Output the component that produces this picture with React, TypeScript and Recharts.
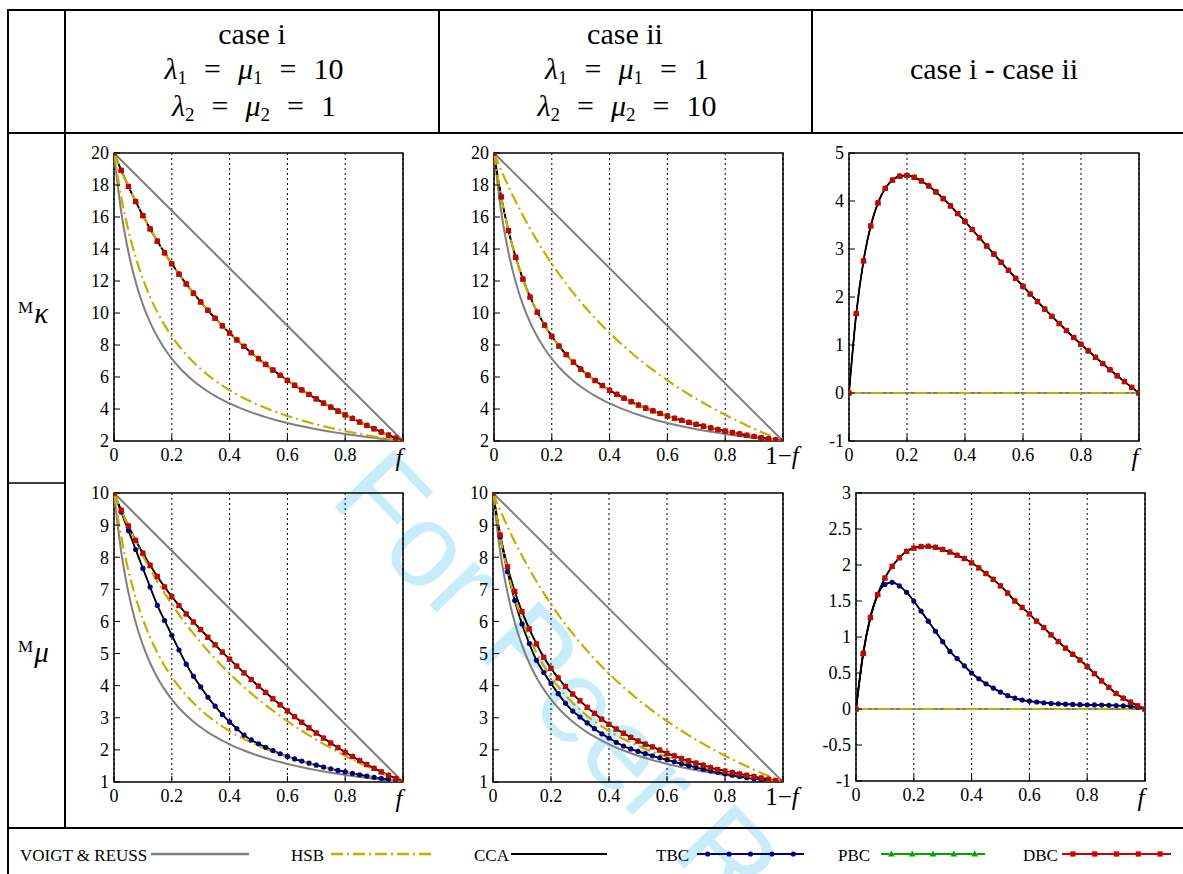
import React from 'react';
import { LineChart, Line, XAxis, YAxis, CartesianGrid, ReferenceArea } from 'recharts';

// abscissa grids
const F41 = [0, 0.025, 0.05, 0.075, 0.1, 0.125, 0.15, 0.175, 0.2, 0.225, 0.25, 0.275, 0.3, 0.325, 0.35, 0.375, 0.4, 0.425, 0.45, 0.475, 0.5, 0.525, 0.55, 0.575, 0.6, 0.625, 0.65, 0.675, 0.7, 0.725, 0.75, 0.775, 0.8, 0.825, 0.85, 0.875, 0.9, 0.925, 0.95, 0.975, 1];
const F2 = [0, 1];

// M_kappa row
const kVoigt = [20, 2];
const kReuss = [20, 16.327, 13.793, 11.94, 10.526, 9.412, 8.511, 7.767, 7.143, 6.612, 6.154, 5.755, 5.405, 5.096, 4.819, 4.571, 4.348, 4.145, 3.96, 3.791, 3.636, 3.493, 3.361, 3.239, 3.125, 3.019, 2.92, 2.827, 2.74, 2.658, 2.581, 2.508, 2.439, 2.374, 2.312, 2.254, 2.198, 2.145, 2.094, 2.046, 2];
const kHsbUpper = [20, 18.916, 17.907, 16.966, 16.087, 15.263, 14.49, 13.762, 13.077, 12.43, 11.818, 11.239, 10.69, 10.168, 9.672, 9.2, 8.75, 8.321, 7.91, 7.518, 7.143, 6.783, 6.438, 6.107, 5.789, 5.484, 5.19, 4.907, 4.634, 4.371, 4.118, 3.873, 3.636, 3.408, 3.187, 2.973, 2.766, 2.565, 2.371, 2.183, 2];
const kHsbLower = [20, 17.261, 15.154, 13.483, 12.125, 11, 10.053, 9.244, 8.545, 7.936, 7.4, 6.925, 6.5, 6.119, 5.774, 5.462, 5.176, 4.915, 4.676, 4.455, 4.25, 4.06, 3.884, 3.719, 3.565, 3.421, 3.286, 3.158, 3.038, 2.925, 2.818, 2.717, 2.621, 2.529, 2.443, 2.36, 2.281, 2.206, 2.134, 2.066, 2];
const kDiff = [0, 1.655, 2.753, 3.483, 3.962, 4.263, 4.437, 4.518, 4.532, 4.494, 4.418, 4.314, 4.19, 4.049, 3.898, 3.738, 3.574, 3.406, 3.234, 3.063, 2.893, 2.723, 2.554, 2.388, 2.224, 2.063, 1.904, 1.749, 1.596, 1.446, 1.3, 1.156, 1.015, 0.879, 0.744, 0.613, 0.485, 0.359, 0.237, 0.117, 0];
const zero2 = [0, 0];

// M_mu row
const mVoigt = [10, 1];
const mReuss = [10, 8.163, 6.897, 5.97, 5.263, 4.706, 4.255, 3.883, 3.571, 3.306, 3.077, 2.877, 2.703, 2.548, 2.41, 2.286, 2.174, 2.073, 1.98, 1.896, 1.818, 1.747, 1.681, 1.62, 1.563, 1.51, 1.46, 1.414, 1.37, 1.329, 1.291, 1.254, 1.22, 1.187, 1.156, 1.127, 1.099, 1.073, 1.047, 1.023, 1];
const mHsbUpper = [10, 9.458, 8.954, 8.483, 8.043, 7.632, 7.245, 6.881, 6.538, 6.215, 5.909, 5.619, 5.345, 5.084, 4.836, 4.6, 4.375, 4.16, 3.955, 3.759, 3.571, 3.392, 3.219, 3.054, 2.895, 2.742, 2.595, 2.454, 2.317, 2.186, 2.059, 1.937, 1.818, 1.704, 1.594, 1.487, 1.383, 1.283, 1.186, 1.092, 1];
const mHsbLower = [10, 8.631, 7.577, 6.742, 6.063, 5.5, 5.027, 4.622, 4.273, 3.968, 3.7, 3.463, 3.25, 3.06, 2.887, 2.731, 2.588, 2.458, 2.338, 2.228, 2.125, 2.03, 1.942, 1.86, 1.783, 1.711, 1.643, 1.579, 1.519, 1.463, 1.409, 1.359, 1.311, 1.265, 1.222, 1.18, 1.141, 1.103, 1.067, 1.033, 1];
const mPbcCase1 = [10, 9.463, 8.975, 8.525, 8.125, 7.75, 7.4, 7.075, 6.775, 6.495, 6.233, 5.983, 5.745, 5.505, 5.273, 5.045, 4.825, 4.61, 4.398, 4.19, 3.985, 3.788, 3.593, 3.403, 3.215, 3.035, 2.86, 2.69, 2.525, 2.368, 2.215, 2.068, 1.925, 1.793, 1.665, 1.543, 1.425, 1.315, 1.208, 1.105, 1];
const mTbcCase1 = [10, 9.41, 8.83, 8.24, 7.65, 7.07, 6.5, 6.03, 5.57, 5.11, 4.67, 4.29, 3.96, 3.64, 3.36, 3.1, 2.87, 2.66, 2.46, 2.31, 2.19, 2.08, 1.98, 1.88, 1.795, 1.72, 1.65, 1.585, 1.523, 1.466, 1.412, 1.361, 1.313, 1.268, 1.226, 1.185, 1.146, 1.115, 1.08, 1.045, 1];
const mPbcCase2 = [10, 8.693, 7.705, 6.935, 6.305, 5.77, 5.3, 4.885, 4.54, 4.24, 3.973, 3.738, 3.53, 3.325, 3.138, 2.955, 2.795, 2.65, 2.518, 2.39, 2.275, 2.178, 2.093, 1.993, 1.895, 1.815, 1.73, 1.66, 1.59, 1.523, 1.445, 1.39, 1.34, 1.295, 1.25, 1.21, 1.17, 1.125, 1.085, 1.04, 1];
const mTbcCase2 = [10, 8.63, 7.55, 6.65, 5.92, 5.31, 4.79, 4.41, 4.07, 3.75, 3.45, 3.21, 3.025, 2.84, 2.66, 2.5, 2.37, 2.235, 2.12, 2.03, 1.952, 1.882, 1.816, 1.752, 1.69, 1.628, 1.568, 1.507, 1.451, 1.399, 1.349, 1.301, 1.255, 1.212, 1.172, 1.133, 1.098, 1.071, 1.042, 1.02, 1];
const mPbcDiff = [0, 0.77, 1.27, 1.59, 1.82, 1.98, 2.1, 2.19, 2.235, 2.255, 2.26, 2.245, 2.215, 2.18, 2.135, 2.09, 2.03, 1.96, 1.88, 1.8, 1.71, 1.61, 1.5, 1.41, 1.32, 1.22, 1.13, 1.03, 0.935, 0.845, 0.76, 0.68, 0.59, 0.49, 0.39, 0.3, 0.215, 0.15, 0.095, 0.045, 0];
const mTbcDiff = [0, 0.78, 1.28, 1.59, 1.73, 1.76, 1.71, 1.62, 1.5, 1.36, 1.22, 1.08, 0.935, 0.8, 0.7, 0.6, 0.5, 0.42, 0.35, 0.29, 0.235, 0.185, 0.15, 0.125, 0.11, 0.097, 0.087, 0.078, 0.072, 0.067, 0.063, 0.06, 0.058, 0.056, 0.054, 0.052, 0.048, 0.044, 0.038, 0.025, 0];

// ticks
const X_TICKS = [0, 0.2, 0.4, 0.6, 0.8, 1];
const K_TICKS = [2, 4, 6, 8, 10, 12, 14, 16, 18, 20];
const KD_TICKS = [-1, 0, 1, 2, 3, 4, 5];
const M_TICKS = [1, 2, 3, 4, 5, 6, 7, 8, 9, 10];
const MD_TICKS = [-1, -0.5, 0, 0.5, 1, 1.5, 2, 2.5, 3];

const SERIF = '"Liberation Serif", "Times New Roman", serif';
const GRAY = '#7f7f7f';
const GOLD = '#ccaa00';
const NAVY = '#00007f';
const GREEN = '#00a000';
const RED = '#cc0000';
const DASHDOT = '12 4 2 4';

type Kind = 'vr' | 'hsb' | 'cca' | 'tbc' | 'pbc' | 'dbc';
type Series = { kind: Kind; xs: number[]; ys: number[] };

const s = (kind: Kind, xs: number[], ys: number[]): Series => ({ kind, xs, ys });

const PANELS = [
  {
    box: [114, 153, 289, 288], yDomain: [2, 20], yTicks: K_TICKS, xName: 'f',
    series: [s('vr', F2, kVoigt), s('vr', F41, kReuss), s('hsb', F41, kHsbUpper), s('hsb', F41, kHsbLower),
      s('cca', F41, kHsbUpper), s('tbc', F41, kHsbUpper), s('pbc', F41, kHsbUpper), s('dbc', F41, kHsbUpper)],
  },
  {
    box: [494, 153, 289, 288], yDomain: [2, 20], yTicks: K_TICKS, xName: '1-f',
    series: [s('vr', F2, kVoigt), s('vr', F41, kReuss), s('hsb', F41, kHsbUpper), s('hsb', F41, kHsbLower),
      s('cca', F41, kHsbLower), s('tbc', F41, kHsbLower), s('pbc', F41, kHsbLower), s('dbc', F41, kHsbLower)],
  },
  {
    box: [849, 153, 290, 288], yDomain: [-1, 5], yTicks: KD_TICKS, xName: 'f',
    series: [s('vr', F2, zero2), s('hsb', F2, zero2),
      s('cca', F41, kDiff), s('tbc', F41, kDiff), s('pbc', F41, kDiff), s('dbc', F41, kDiff)],
  },
  {
    box: [114, 493, 289, 289], yDomain: [1, 10], yTicks: M_TICKS, xName: 'f',
    series: [s('vr', F2, mVoigt), s('vr', F41, mReuss), s('hsb', F41, mHsbUpper), s('hsb', F41, mHsbLower),
      s('cca', F41, mPbcCase1), s('cca', F41, mTbcCase1), s('tbc', F41, mTbcCase1), s('pbc', F41, mPbcCase1), s('dbc', F41, mPbcCase1)],
  },
  {
    box: [493, 493, 290, 289], yDomain: [1, 10], yTicks: M_TICKS, xName: '1-f',
    series: [s('vr', F2, mVoigt), s('vr', F41, mReuss), s('hsb', F41, mHsbUpper), s('hsb', F41, mHsbLower),
      s('cca', F41, mPbcCase2), s('cca', F41, mTbcCase2), s('tbc', F41, mTbcCase2), s('pbc', F41, mPbcCase2), s('dbc', F41, mPbcCase2)],
  },
  {
    box: [856, 493, 289, 288], yDomain: [-1, 3], yTicks: MD_TICKS, xName: 'f',
    series: [s('vr', F2, zero2), s('hsb', F2, zero2),
      s('cca', F41, mPbcDiff), s('cca', F41, mTbcDiff), s('tbc', F41, mTbcDiff), s('pbc', F41, mPbcDiff), s('dbc', F41, mPbcDiff)],
  },
];

const markerColor = (k: Kind) => (k === 'tbc' ? NAVY : k === 'pbc' ? GREEN : RED);

const marker = (k: Kind, cx: number, cy: number, key: React.Key) => {
  if (k === 'tbc') return <circle key={key} cx={cx} cy={cy} r={2.6} fill={NAVY} />;
  if (k === 'pbc')
    return <polygon key={key} points={`${cx},${cy - 3.6} ${cx + 3.3},${cy + 2.4} ${cx - 3.3},${cy + 2.4}`} fill={GREEN} />;
  return <rect key={key} x={cx - 2.6} y={cy - 2.6} width={5.2} height={5.2} fill={RED} />;
};

const dotFor = (k: Kind) => (p: any) => {
  if (p.cx == null || p.cy == null) return <g key={p.index} />;
  return marker(k, p.cx, p.cy, p.index);
};

const toPoints = (sr: Series) => sr.xs.map((x, i) => ({ x, y: sr.ys[i] }));

function renderLines(series: Series[]) {
  const out: React.ReactNode[] = [];
  const pick = (k: Kind) => series.map((sr, i) => ({ sr, i })).filter((e) => e.sr.kind === k);
  pick('vr').forEach(({ sr, i }) =>
    out.push(<Line key={`vr${i}`} data={toPoints(sr)} dataKey="y" type="monotone" stroke={GRAY} strokeWidth={2} dot={false} activeDot={false} isAnimationActive={false} />));
  (['tbc', 'pbc', 'dbc'] as Kind[]).forEach((k) =>
    pick(k).forEach(({ sr, i }) =>
      out.push(<Line key={`l${k}${i}`} data={toPoints(sr)} dataKey="y" type="monotone" stroke={markerColor(k)} strokeWidth={1.2} dot={false} activeDot={false} isAnimationActive={false} />)));
  pick('cca').forEach(({ sr, i }) =>
    out.push(<Line key={`cca${i}`} data={toPoints(sr)} dataKey="y" type="monotone" stroke="#000" strokeWidth={1.8} dot={false} activeDot={false} isAnimationActive={false} />));
  (['tbc', 'pbc', 'dbc'] as Kind[]).forEach((k) =>
    pick(k).forEach(({ sr, i }) =>
      out.push(<Line key={`d${k}${i}`} data={toPoints(sr)} dataKey="y" type="monotone" stroke="none" strokeWidth={0} dot={dotFor(k)} activeDot={false} isAnimationActive={false} />)));
  pick('hsb').forEach(({ sr, i }) =>
    out.push(<Line key={`hsb${i}`} data={toPoints(sr)} dataKey="y" type="monotone" stroke={GOLD} strokeWidth={2.2} strokeDasharray={DASHDOT} dot={false} activeDot={false} isAnimationActive={false} />));
  return out;
}

const xTick = (name: string) => (p: any) => {
  const v = p.payload.value;
  if (v === 1) {
    if (name === 'f')
      return (
        <text x={p.x - 4} y={p.y + 18} textAnchor="middle" fontFamily={SERIF} fontSize={25} fontStyle="italic" fill="#000">f</text>
      );
    return (
      <text x={p.x - 1} y={p.y + 16} textAnchor="middle" fontFamily={SERIF} fontSize={25} fill="#000">
        1−<tspan fontStyle="italic">f</tspan>
      </text>
    );
  }
  return (
    <text x={p.x} y={p.y} dy="0.71em" textAnchor="middle" fontFamily={SERIF} fontSize={18} fill="#000">{v}</text>
  );
};

function Panel({ box, yDomain, yTicks, xName, series }: any) {
  const [left, top, w, h] = box;
  const padL = 60, padT = 12, padR = 34, padB = 44;
  return (
    <div style={{ position: 'absolute', left: left - padL, top: top - padT }}>
      <LineChart width={w + padL + padR} height={h + padT + padB} margin={{ top: padT, right: padR, bottom: 0, left: 0 }}>
        <CartesianGrid horizontal={false} stroke="#000" strokeDasharray="2 3" strokeWidth={1} />
        <XAxis type="number" dataKey="x" domain={[0, 1]} ticks={X_TICKS} interval={0} height={padB} allowDataOverflow
          axisLine={false} tickSize={-6} tickMargin={13} tickLine={{ stroke: '#000' }} tick={xTick(xName)} />
        <YAxis type="number" domain={yDomain} ticks={yTicks} interval={0} width={padL} allowDataOverflow
          axisLine={false} tickSize={-6} tickMargin={11} tickLine={{ stroke: '#000' }}
          tick={{ fill: '#000', fontSize: 18, fontFamily: SERIF }} />
        <ReferenceArea x1={0} x2={1} y1={yDomain[0]} y2={yDomain[1]} fill="none" fillOpacity={0} stroke="#000" strokeWidth={1.5} />
        {renderLines(series)}
      </LineChart>
    </div>
  );
}

function MathLine({ x, y, sub, value }: { x: number; y: number; sub: string; value: string }) {
  return (
    <text x={x} y={y} textAnchor="middle" fontFamily={SERIF} fontSize={30} fill="#000">
      <tspan fontStyle="italic">λ</tspan>
      <tspan fontSize={19} dy={5}>{sub}</tspan>
      <tspan dy={-5} dx={2}>{'\u2002=\u2002'}</tspan>
      <tspan fontStyle="italic" dx={2}>μ</tspan>
      <tspan fontSize={19} dy={5}>{sub}</tspan>
      <tspan dy={-5} dx={2}>{'\u2002=\u2002'}</tspan>
      <tspan dx={2}>{value}</tspan>
    </text>
  );
}

function LegendItem({ label, x, lx1, lx2, kind }: { label: string; x: number; lx1: number; lx2: number; kind: Kind }) {
  const y = 854;
  let line: React.ReactNode = null;
  if (kind === 'vr') line = <line x1={lx1} y1={y} x2={lx2} y2={y} stroke={GRAY} strokeWidth={2.5} />;
  else if (kind === 'hsb') line = <line x1={lx1} y1={y} x2={lx2} y2={y} stroke={GOLD} strokeWidth={2.5} strokeDasharray={DASHDOT} />;
  else if (kind === 'cca') line = <line x1={lx1} y1={y} x2={lx2} y2={y} stroke="#000" strokeWidth={2} />;
  else {
    const step = (lx2 - lx1) / 5;
    line = (
      <g>
        <line x1={lx1} y1={y} x2={lx2} y2={y} stroke={markerColor(kind)} strokeWidth={2} strokeDasharray={`${step - 4} 4`} strokeDashoffset={-(step / 2 + 2)} />
        {[0, 1, 2, 3, 4].map((i) => marker(kind, lx1 + step * (i + 0.5), y, i))}
      </g>
    );
  }
  return (
    <g>
      <text x={x} y={861} fontFamily={SERIF} fontSize={17} fill="#000">{label}</text>
      {line}
    </g>
  );
}

export default function App() {
  return (
    <div style={{ position: 'absolute', left: 0, top: 0, width: 1183, height: 874, background: '#fff', overflow: 'hidden' }}>
      <svg width={1183} height={874} style={{ position: 'absolute', left: 0, top: 0 }}>
        {/* watermark */}
        <text transform="translate(328,500) rotate(46)" fontFamily='"Liberation Sans", Arial, sans-serif' fontSize={118} fill="#c9ecfb">For Peer Review</text>

        {/* table rules */}
        <g stroke="#000" strokeWidth={2}>
          <line x1={8} y1={9} x2={8} y2={874} />
          <line x1={7} y1={10} x2={1183} y2={10} />
          <line x1={65} y1={10} x2={65} y2={828} />
          <line x1={439} y1={10} x2={439} y2={133} />
          <line x1={812} y1={10} x2={812} y2={133} />
          <line x1={8} y1={133} x2={1183} y2={133} />
          <line x1={8} y1={483} x2={65} y2={483} strokeWidth={1.5} />
          <line x1={8} y1={828} x2={1183} y2={828} />
        </g>

        {/* header */}
        <text x={252} y={44} textAnchor="middle" fontFamily={SERIF} fontSize={30} fill="#000">case i</text>
        <MathLine x={254} y={79} sub="1" value="10" />
        <MathLine x={254} y={116} sub="2" value="1" />
        <text x={625} y={44} textAnchor="middle" fontFamily={SERIF} fontSize={30} fill="#000">case ii</text>
        <MathLine x={627} y={79} sub="1" value="1" />
        <MathLine x={627} y={116} sub="2" value="10" />
        <text x={994} y={79} textAnchor="middle" fontFamily={SERIF} fontSize={30} fill="#000">case i - case ii</text>

        {/* row labels */}
        <text x={18} y={313} fontFamily={SERIF} fontSize={17} fill="#000">
          M<tspan fontSize={29} fontStyle="italic" dy={10} dx={1}>κ</tspan>
        </text>
        <text x={18} y={652} fontFamily={SERIF} fontSize={17} fill="#000">
          M<tspan fontSize={29} fontStyle="italic" dy={10} dx={1}>μ</tspan>
        </text>

        {/* legend */}
        <LegendItem label="VOIGT & REUSS" x={20} lx1={151} lx2={249} kind="vr" />
        <LegendItem label="HSB" x={291} lx1={331} lx2={432} kind="hsb" />
        <LegendItem label="CCA" x={474} lx1={511} lx2={607} kind="cca" />
        <LegendItem label="TBC" x={656} lx1={697} lx2={804} kind="tbc" />
        <LegendItem label="PBC" x={838} lx1={881} lx2={985} kind="pbc" />
        <LegendItem label="DBC" x={1023} lx1={1062} lx2={1171} kind="dbc" />
      </svg>

      {PANELS.map((p, i) => (
        <Panel key={i} {...p} />
      ))}
    </div>
  );
}
